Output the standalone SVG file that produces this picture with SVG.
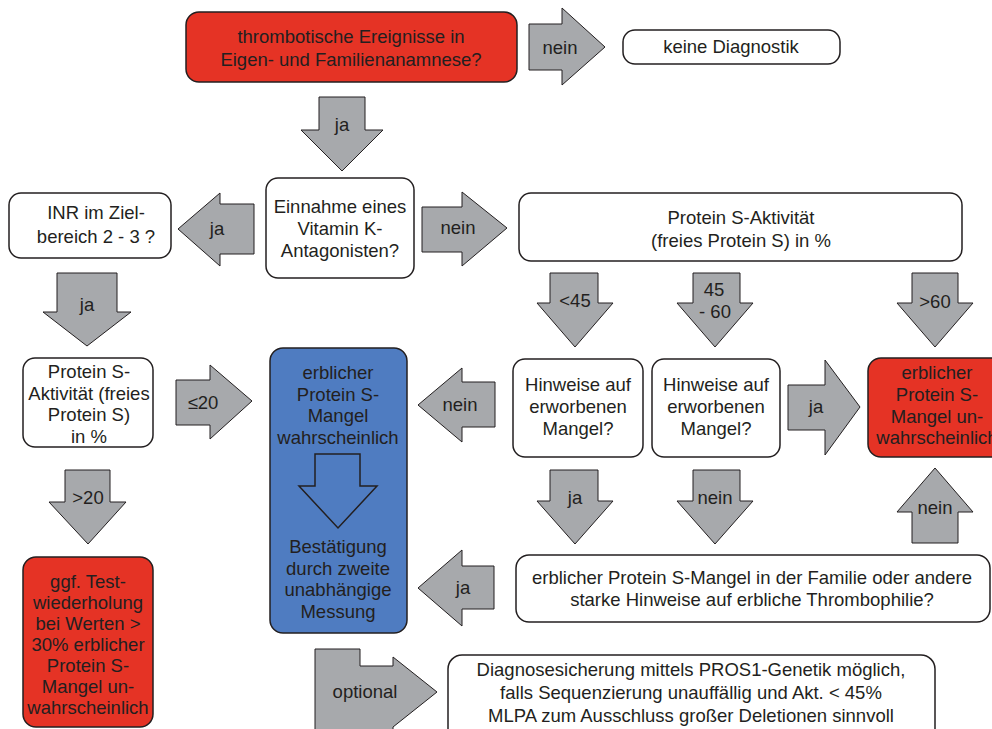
<svg xmlns="http://www.w3.org/2000/svg" width="992" height="729" viewBox="0 0 992 729">
<style>
text{font-family:"Liberation Sans",Arial,sans-serif;font-size:18.5px;fill:#231f20;text-anchor:middle}
.box{fill:#fff;stroke:#231f20;stroke-width:1.5}
.red{fill:#e53325;stroke:#231f20;stroke-width:1.5}
.blue{fill:#4f7cc1;stroke:#231f20;stroke-width:1.5}
.arr{fill:#a7a9ac;stroke:#231f20;stroke-width:1;stroke-linejoin:miter}
.inner{fill:none;stroke:#231f20;stroke-width:1.5}
</style>
<rect width="992" height="729" fill="#fff"/>
<g id="connectors">
<polygon class="arr" points="529,24 562,24 562,8 605,47 562,85 562,70 529,70"/>
<text x="560" y="54">nein</text>
<polygon class="arr" points="319,97 365,97 365,130 383,130 342,171 301,130 319,130"/>
<text x="342" y="131">ja</text>
<polygon class="arr" points="254,204 254,254 220,254 220,266 178,229 220,193 220,204"/>
<text x="217" y="235">ja</text>
<polygon class="arr" points="422,207 462,207 462,192 507,228 462,266 462,252 422,252"/>
<text x="458" y="234">nein</text>
<polygon class="arr" points="57,273 117,273 117,312 131,312 87,346 43,312 57,312"/>
<text x="87" y="311">ja</text>
<polygon class="arr" points="176,380 210,380 210,365 252,401 210,439 210,425 176,425"/>
<text x="203" y="409">≤20</text>
<polygon class="arr" points="550,273 598,273 598,303 613,303 575,347 537,303 550,303"/>
<text x="575" y="307">&lt;45</text>
<polygon class="arr" points="693,273 740,273 740,303 753,303 715,347 677,303 693,303"/>
<text x="714" y="296">45</text>
<text x="715" y="318">- 60</text>
<polygon class="arr" points="912,273 958,273 958,303 973,303 935,347 897,303 912,303"/>
<text x="935" y="308">&gt;60</text>
<polygon class="arr" points="495,382 495,427 462,427 462,442 418,405 462,368 462,382"/>
<text x="460" y="411">nein</text>
<polygon class="arr" points="788,385 825,385 825,360 860,407 825,455 825,430 788,430"/>
<text x="816" y="413">ja</text>
<polygon class="arr" points="912,543 958,543 958,512 973,512 935,468 897,512 912,512"/>
<text x="935" y="514">nein</text>
<polygon class="arr" points="550,470 598,470 598,501 613,501 575,544 537,501 550,501"/>
<text x="575" y="504">ja</text>
<polygon class="arr" points="693,470 740,470 740,501 753,501 715,544 677,501 693,501"/>
<text x="715" y="504">nein</text>
<polygon class="arr" points="65,470 110,470 110,502 126,502 88,544 49,502 65,502"/>
<text x="88" y="504">&gt;20</text>
<polygon class="arr" points="494,566 494,609 462,609 462,626 418,588 462,550 462,566"/>
<text x="463" y="594">ja</text>
<polygon class="arr" points="315,649 360,649 360,666 393,666 393,657 437,692 393,727 393,740 315,740"/>
<text x="365" y="698">optional</text>
</g>
<g id="n-start">
<rect class="red" x="186" y="12" width="331" height="70" rx="13"/>
<text x="351" y="43">thrombotische Ereignisse in</text>
<text x="351" y="66">Eigen- und Familienanamnese?</text>
</g>
<g id="n-keine">
<rect class="box" x="623" y="30" width="217" height="34" rx="12"/>
<text x="731" y="53">keine Diagnostik</text>
</g>
<g id="n-vka">
<rect class="box" x="266" y="178" width="148" height="100" rx="12"/>
<text x="340" y="213">Einnahme eines</text>
<text x="340" y="235">Vitamin K-</text>
<text x="340" y="257">Antagonisten?</text>
</g>
<g id="n-inr">
<rect class="box" x="9" y="193" width="162" height="65" rx="12"/>
<text x="96" y="219">INR im Ziel-</text>
<text x="96" y="243">bereich 2 - 3 ?</text>
</g>
<g id="n-ps-left">
<rect class="box" x="23" y="358" width="130" height="89" rx="12"/>
<text x="89" y="378">Protein S-</text>
<text x="89" y="400">Aktivität (freies</text>
<text x="89" y="421">Protein S)</text>
<text x="89" y="443">in %</text>
</g>
<g id="n-ps-main">
<rect class="box" x="519" y="193" width="443" height="68" rx="12"/>
<text x="741" y="224">Protein S-Aktivität</text>
<text x="741" y="247">(freies Protein S) in %</text>
</g>
<g id="n-blue">
<rect class="blue" x="270" y="348" width="137" height="285" rx="13"/>
<text x="338" y="379">erblicher</text>
<text x="338" y="401">Protein S-</text>
<text x="338" y="422">Mangel</text>
<text x="338" y="444">wahrscheinlich</text>
<polygon class="inner" points="315,454 360,454 360,486 377,486 338,528 299,486 315,486"/>
<text x="338" y="553">Bestätigung</text>
<text x="338" y="575">durch zweite</text>
<text x="338" y="596">unabhängige</text>
<text x="338" y="618">Messung</text>
</g>
<g id="n-hinweise1">
<rect class="box" x="513" y="359" width="130" height="98" rx="12"/>
<text x="578" y="391">Hinweise auf</text>
<text x="578" y="413">erworbenen</text>
<text x="578" y="435">Mangel?</text>
</g>
<g id="n-hinweise2">
<rect class="box" x="652" y="359" width="128" height="98" rx="12"/>
<text x="716" y="391">Hinweise auf</text>
<text x="716" y="413">erworbenen</text>
<text x="716" y="435">Mangel?</text>
</g>
<g id="n-red-right">
<rect class="red" x="868" y="358" width="140" height="99" rx="13"/>
<text x="937" y="379">erblicher</text>
<text x="937" y="401">Protein S-</text>
<text x="937" y="423">Mangel un-</text>
<text x="937" y="444">wahrscheinlich</text>
</g>
<g id="n-familie">
<rect class="box" x="516" y="555" width="474" height="67" rx="13"/>
<text x="752" y="584">erblicher Protein S-Mangel in der Familie oder andere</text>
<text x="752" y="606">starke Hinweise auf erbliche Thrombophilie?</text>
</g>
<g id="n-red-left">
<rect class="red" x="23" y="557" width="130" height="170" rx="13"/>
<text x="88" y="588">ggf. Test-</text>
<text x="88" y="609">wiederholung</text>
<text x="88" y="630">bei Werten &gt;</text>
<text x="88" y="651">30% erblicher</text>
<text x="88" y="672">Protein S-</text>
<text x="88" y="693">Mangel un-</text>
<text x="88" y="714">wahrscheinlich</text>
</g>
<g id="n-genetik">
<rect class="box" x="448" y="655" width="487" height="95" rx="14"/>
<text x="691" y="676">Diagnosesicherung mittels PROS1-Genetik möglich,</text>
<text x="691" y="699">falls Sequenzierung unauffällig und Akt. &lt; 45%</text>
<text x="691" y="722">MLPA zum Ausschluss großer Deletionen sinnvoll</text>
</g>
</svg>
